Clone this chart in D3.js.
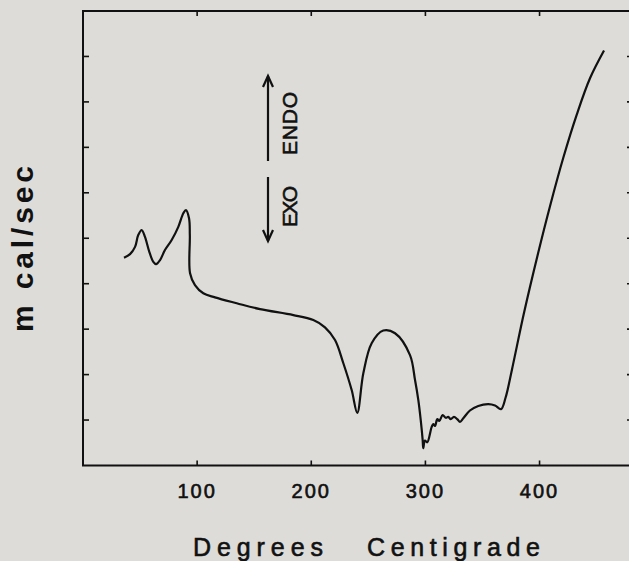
<!DOCTYPE html>
<html>
<head>
<meta charset="utf-8">
<script src="https://cdn.jsdelivr.net/npm/d3@7/dist/d3.min.js"></script>
<style>
  html, body { margin:0; padding:0; background:#dddcd8; overflow:hidden; }
  text { font-family: "Liberation Sans", Arial, sans-serif; fill:#111; }
  .heavy { stroke:#111; stroke-width:0.6px; }
</style>
</head>
<body>
<div id="chart"></div>
<script>
// DSC trace
var temps = [35.9, 41.2, 45.6, 48.4, 51.4, 54.3, 58.1, 61.6, 64.0, 67.5, 71.8, 77.7, 83.5, 87.9, 90.2, 92.9,
             93.6, 93.8, 98.1, 105.4, 115.6, 134.7, 155.1, 184.3, 201.8, 212.0, 220.8, 228.1, 235.4, 240.3,
             245.6, 252.9, 263.1, 273.4, 286.5, 290.9, 293.8, 295.9, 297.6, 298.1, 299.6, 301.6, 305.5, 306.9,
             308.4, 310.4, 312.2, 315.1, 317.8, 320.0, 322.2, 325.0, 327.9, 330.3, 333.2, 339.0, 346.3, 355.1,
             361.0, 366.2, 370.2, 375.9, 386.4, 399.8, 409.1, 420.8, 432.6, 444.2, 456.5];
var heatFlow = [4.57, 4.65, 4.81, 5.07, 5.18, 5.03, 4.70, 4.48, 4.43, 4.52, 4.74, 4.96, 5.25, 5.55, 5.62, 5.44,
                5.07, 4.23, 3.97, 3.79, 3.70, 3.57, 3.44, 3.31, 3.20, 3.04, 2.76, 2.25, 1.66, 1.16,
                2.03, 2.69, 2.97, 2.91, 2.43, 1.88, 1.44, 1.00, 0.56, 0.38, 0.55, 0.51, 0.85, 0.91,
                0.87, 1.02, 0.98, 1.11, 1.05, 1.07, 1.02, 1.07, 1.02, 0.96, 1.04, 1.21, 1.31, 1.35,
                1.32, 1.24, 1.49, 2.12, 3.36, 4.78, 5.70, 6.77, 7.72, 8.52, 9.13];
var xTicks = [100, 200, 300, 400];
var yTicks = [1, 2, 3, 4, 5, 6, 7, 8, 9];

var W = 629, H = 561;
// note: "top" is taken by window.top, so prefix these
var pL = 83, pR = 632, pT = 11, pB = 465.5;

var svg = d3.select('#chart').append('svg')
    .attr('width', W).attr('height', H);

var x = d3.scaleLinear().domain([0, 481]).range([pL, pR]);
var y = d3.scaleLinear().domain([0, 10]).range([pB, pT]);

var ink = '#111';

// frame
svg.append('rect')
    .attr('x', pL).attr('y', pT)
    .attr('width', pR - pL).attr('height', pB - pT)
    .attr('fill', 'none').attr('stroke', ink).attr('stroke-width', 2);

// inward ticks, all four sides
var tickLen = 5;
svg.selectAll('.tb').data(xTicks).enter().append('line')
    .attr('x1', function(d){ return x(d); }).attr('x2', function(d){ return x(d); })
    .attr('y1', pB).attr('y2', pB - tickLen)
    .attr('stroke', ink).attr('stroke-width', 1.6);
svg.selectAll('.tt').data(xTicks).enter().append('line')
    .attr('x1', function(d){ return x(d); }).attr('x2', function(d){ return x(d); })
    .attr('y1', pT).attr('y2', pT + tickLen)
    .attr('stroke', ink).attr('stroke-width', 1.6);
svg.selectAll('.tl').data(yTicks).enter().append('line')
    .attr('x1', pL).attr('x2', pL + tickLen + 1)
    .attr('y1', function(d){ return y(d); }).attr('y2', function(d){ return y(d); })
    .attr('stroke', ink).attr('stroke-width', 1.6);
svg.selectAll('.tr').data(yTicks).enter().append('line')
    .attr('x1', pR).attr('x2', pR - tickLen)
    .attr('y1', function(d){ return y(d); }).attr('y2', function(d){ return y(d); })
    .attr('stroke', ink).attr('stroke-width', 1.6);

// tick labels
svg.selectAll('.xl').data(xTicks).enter().append('text')
    .attr('class', 'heavy')
    .attr('x', function(d){ return x(d); })
    .attr('y', 498)
    .attr('text-anchor', 'middle')
    .attr('font-size', 20)
    .attr('letter-spacing', 2)
    .text(function(d){ return d; });

// axis titles
svg.append('text').attr('class', 'heavy').attr('x', 193).attr('y', 556)
    .attr('font-size', 25).attr('textLength', 130).attr('lengthAdjust', 'spacing')
    .text('Degrees');
svg.append('text').attr('class', 'heavy').attr('x', 367).attr('y', 556)
    .attr('font-size', 25).attr('textLength', 173).attr('lengthAdjust', 'spacing')
    .text('Centigrade');

svg.append('text')
    .attr('transform', 'translate(33,332) rotate(-90)')
    .attr('font-size', 30).attr('font-weight', 'bold')
    .attr('textLength', 166).attr('lengthAdjust', 'spacing')
    .text('m cal/sec');

// ENDO / EXO arrows
var ax = 268;
function arrow(y0, y1){
    var dir = y1 < y0 ? 1 : -1;
    svg.append('line').attr('x1', ax).attr('x2', ax).attr('y1', y0).attr('y2', y1)
        .attr('stroke', ink).attr('stroke-width', 2.2);
    svg.append('path')
        .attr('d', 'M' + (ax - 5) + ',' + (y1 + dir*11) + 'L' + ax + ',' + y1 + 'L' + (ax + 5) + ',' + (y1 + dir*11))
        .attr('fill', 'none').attr('stroke', ink).attr('stroke-width', 2.2);
}
arrow(161, 76);
arrow(177, 241);

svg.append('text').attr('class', 'heavy')
    .attr('transform', 'translate(296.5,155) rotate(-90)')
    .attr('font-size', 21).attr('textLength', 63).attr('lengthAdjust', 'spacing')
    .text('ENDO');
svg.append('text').attr('class', 'heavy')
    .attr('transform', 'translate(296.5,227) rotate(-90)')
    .attr('font-size', 21).attr('textLength', 41).attr('lengthAdjust', 'spacing')
    .text('EXO');

// the trace
var pts = temps.map(function(t, i){ return [t, heatFlow[i]]; });
var line = d3.line()
    .x(function(d){ return x(d[0]); })
    .y(function(d){ return y(d[1]); })
    .curve(d3.curveCatmullRom.alpha(0.5));

svg.append('path').datum(pts)
    .attr('d', line)
    .attr('fill', 'none')
    .attr('stroke', ink)
    .attr('stroke-width', 2.2)
    .attr('stroke-linejoin', 'round');
</script>
</body>
</html>
